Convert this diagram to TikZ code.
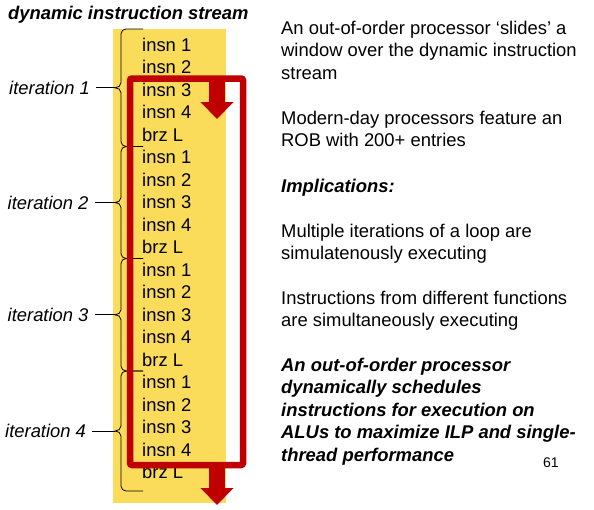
\documentclass[tikz,border=0pt]{standalone}
\usepackage{fontspec}
\setmainfont{Liberation Sans}
\usetikzlibrary{arrows.meta}
\definecolor{streamyellow}{RGB}{250,220,90}
\definecolor{windowred}{RGB}{192,0,0}

\begin{document}
\begin{tikzpicture}[x=1pt,y=1pt,
  txt/.style={font=\fontsize{18.4}{22.5}\selectfont,inner sep=0pt,anchor=base west,align=left},
  head/.style={txt,font=\fontsize{18.4}{22.5}\selectfont\bfseries\itshape},
  iter/.style={txt,font=\fontsize{18.4}{22.5}\selectfont\itshape},
  pagenum/.style={txt,font=\fontsize{14}{16}\selectfont},
  brace/.style={draw=black,line width=0.8pt},
  window/.style={draw=windowred,line width=6.5pt,rounded corners=2pt},
  slide/.style={draw=windowred,line width=16pt,-{Triangle[length=17pt,width=32pt]}},
]
\useasboundingbox (0,0) rectangle (594,-509);
\fill[white] (0,0) rectangle (594,-509);

% the dynamic instruction stream
\node[head] (title) at (8,-19) {dynamic instruction stream};
\fill[streamyellow] (113,-29) rectangle (226,-503);
\foreach \it in {0,...,3} {
  \foreach \lab [count=\j from 0] in {insn 1,insn 2,insn 3,insn 4,brz L} {
    \node[txt] (row\it\j) at (142,{-51-22.5*(5*\it+\j)}) {\lab};
  }
}

% one brace per loop iteration
\foreach \n/\top/\bot/\lx in {1/29/146.5/9,2/146.5/258.5/7.5,3/258.5/371/7.5,4/371/491/5} {
  \pgfmathsetmacro\mid{(\top+\bot)/2}
  \coordinate (tip\n) at (115,-\mid);
  \draw[brace] (143,-\top) -- (126,-\top) to[out=180,in=90] (121,{-\top-5})
    -- (121,{-\mid+5}) to[out=-90,in=0] (tip\n) to[out=0,in=90] (121,{-\mid-5})
    -- (121,{-\bot+5}) to[out=-90,in=180] (126,-\bot) -- (143,-\bot);
  \node[iter] (iter\n) at (\lx,{-\mid-6.5}) {iteration \n};
  \draw[brace] (iter\n.east |- tip\n) ++(6,0) -- (tip\n);
}

% the sliding window
\draw[window] (130,-78.5) rectangle (243,-465);
\draw[slide] (217,-78) -- (217,-119);
\draw[slide] (217,-465) -- (217,-505);

% notes (placed at the baseline of their last line)
\node[txt] (intro) at (281,-79) {An out-of-order processor ‘slides’ a\\window over the dynamic instruction\\stream};
\node[txt] (rob) at (281,-146.5) {Modern-day processors feature an\\ROB with 200+ entries};
\node[head] (impl) at (281,-192) {Implications:};
\node[txt] (loops) at (281,-259.5) {Multiple iterations of a loop are\\simulatenously executing};
\node[txt] (funcs) at (281,-326.5) {Instructions from different functions\\are simultaneously executing};
\node[head] (summary) at (281,-461) {An out-of-order processor\\dynamically schedules\\instructions for execution on\\ALUs to maximize ILP and single-\\thread performance};
\node[pagenum] (page) at (543,-467) {61};
\end{tikzpicture}
\end{document}
